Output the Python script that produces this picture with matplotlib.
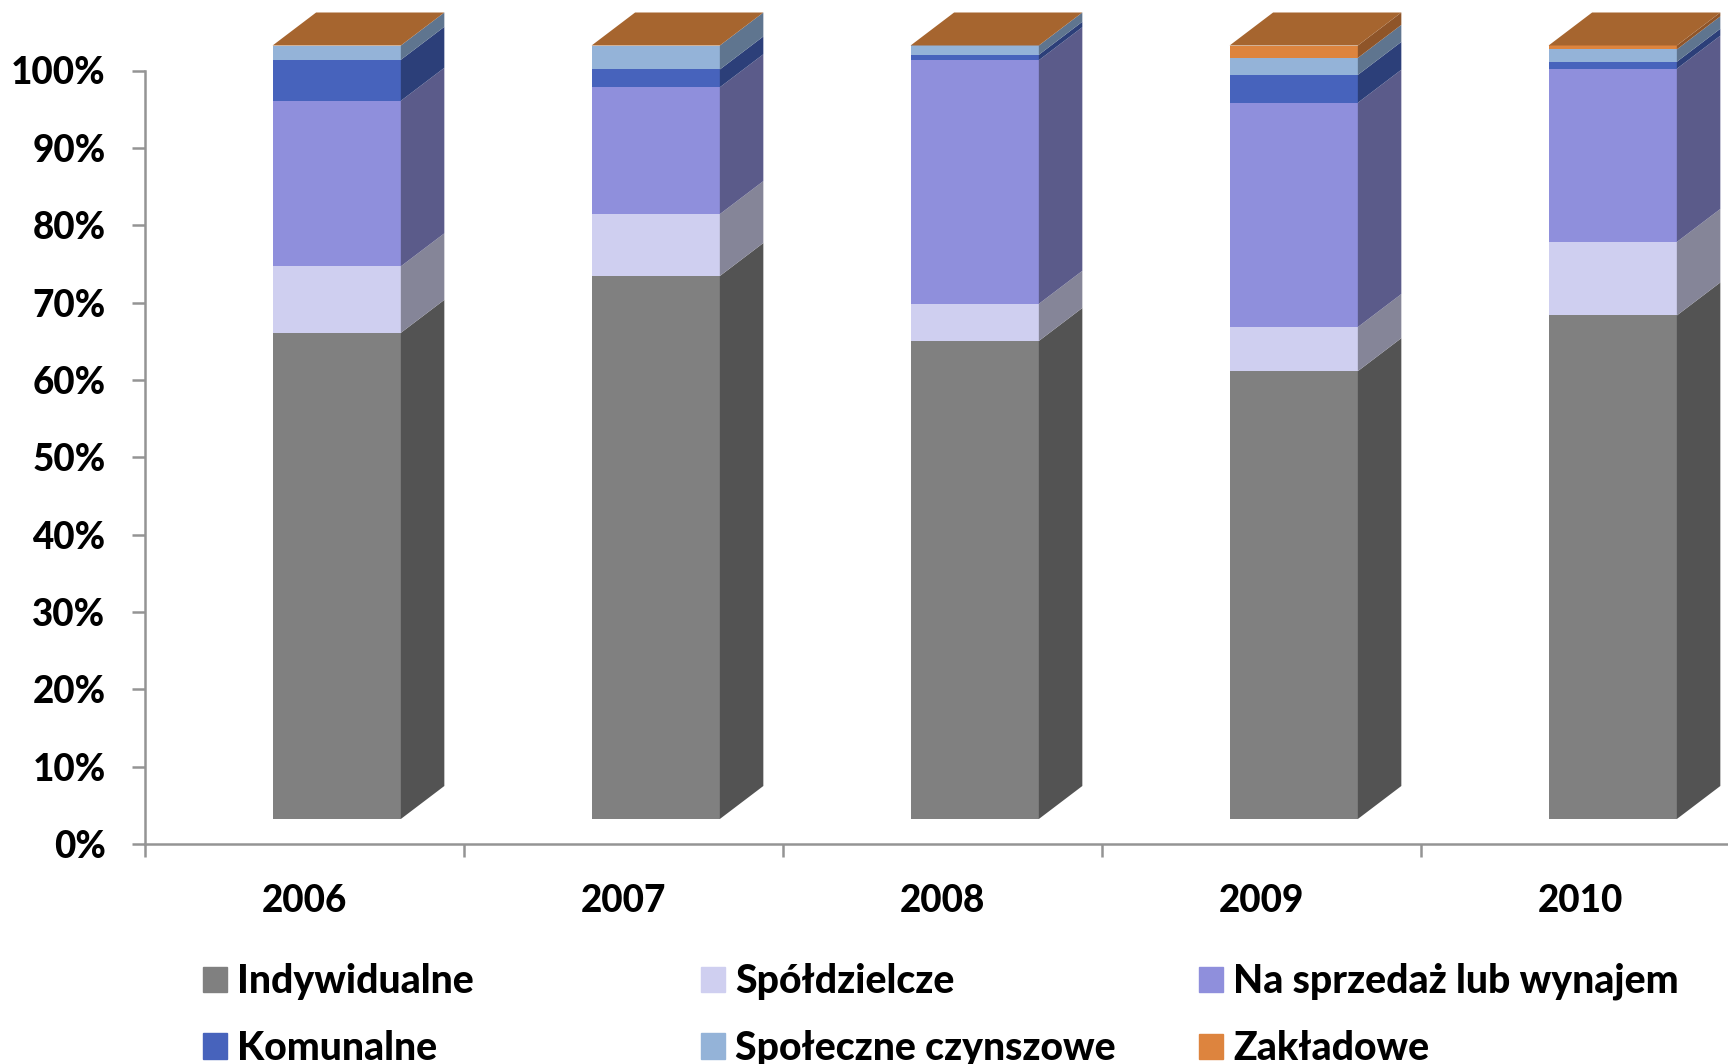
import numpy as np
import matplotlib
matplotlib.use("Agg")
import matplotlib.pyplot as plt
from matplotlib.patches import Patch

years = ["2006", "2007", "2008", "2009", "2010"]
series = ["Indywidualne", "Spółdzielcze", "Na sprzedaż lub wynajem",
          "Komunalne", "Społeczne czynszowe", "Zakładowe"]

indywidualne = [62.85, 70.2, 61.8, 57.9, 65.1]
spoldzielcze = [8.6, 8.0, 4.8, 5.7, 9.5]
na_sprzedaz = [21.4, 16.4, 31.5, 29.0, 22.4]
komunalne = [5.3, 2.3, 0.7, 3.6, 0.9]
spoleczne = [1.85, 3.1, 1.2, 2.2, 1.6]
zakladowe = [0.0, 0.0, 0.0, 1.6, 0.5]

front_colors = ["#808080", "#CFCFF0", "#8F8FDC", "#4763BC", "#94B3D8", "#DD843E"]
side_colors = ["#535353", "#858598", "#5B5B8A", "#2C3F79", "#5F758F", "#8F5529"]
top_color = "#A6652F"

W, H = 1728, 1064
plt.rcParams['font.family'] = ['Lato', 'DejaVu Sans']
plt.rcParams['font.weight'] = 'black'
fs = 26.5
fs_leg = 28.2
axis_color = "#949494"

fig = plt.figure(figsize=(W/100, H/100), dpi=100)
x0, y0, y100 = 145, 844, 70.5
cat_px = 319
ax = fig.add_axes([x0/W, 1 - y0/H, (W - x0)/W, (y0 - y100)/H])
ax.set_xlim(0, (W - x0)/cat_px)
ax.set_ylim(0, 100)

### fake 3D: the bars float above the axis and have a depth
base = 25/7.735
bar_w = 0.402
depth_x = 43.5/cat_px
depth_y = 33/7.735

data = np.array([indywidualne, spoldzielcze, na_sprzedaz, komunalne, spoleczne, zakladowe])
cum = np.zeros(len(years))
xs = np.arange(len(years)) + 0.40
for i, vals in enumerate(data):
    ax.bar(xs, vals, bar_w, bottom=base + cum, align='edge', color=front_colors[i],
           linewidth=0, clip_on=False, zorder=3)
    for k, x in enumerate(xs):
        if vals[k] == 0:
            continue
        r = x + bar_w
        b = base + cum[k]
        t = b + vals[k]
        ax.fill([r, r + depth_x, r + depth_x, r], [b, b + depth_y, t + depth_y, t],
                color=side_colors[i], linewidth=0, clip_on=False, zorder=3)
    cum += vals

for x, c in zip(xs, cum):
    t = base + c
    ax.fill([x, x + bar_w, x + bar_w + depth_x, x + depth_x], [t, t, t + depth_y, t + depth_y],
            color=top_color, linewidth=0, clip_on=False, zorder=4)

for s in ['top', 'right']:
    ax.spines[s].set_visible(False)
for s in ['left', 'bottom']:
    ax.spines[s].set_color(axis_color)
    ax.spines[s].set_linewidth(1.8)

ax.set_yticks(np.arange(0, 101, 10))
ax.set_yticklabels(["{}%".format(v) for v in range(0, 101, 10)], fontsize=fs)
ax.set_xticks(np.arange(len(years)))
ax.set_xticklabels([])
ax.tick_params(axis='both', length=9.4, width=1.8, color=axis_color, labelcolor='black')
ax.tick_params(axis='y', pad=19)
for i, y in enumerate(years):
    ax.annotate(y, (i + 0.5, 0), xytext=(0, -57), textcoords='offset pixels', ha='center', va='center',
                fontsize=fs, annotation_clip=False)

### legend: three equally spaced columns
col_px = [203, 701, 1199]
leg_px = fs_leg*100/72
for c in range(3):
    handles = [Patch(color=front_colors[c], label=series[c]),
               Patch(color=front_colors[c + 3], label=series[c + 3])]
    fig.legend(handles=handles, loc='upper left', bbox_to_anchor=(col_px[c]/W, 1 - 963/H),
               frameon=False, fontsize=fs_leg, borderpad=0, borderaxespad=0,
               handlelength=24/leg_px, handleheight=24/leg_px,
               handletextpad=10/leg_px, labelspacing=0.76)

plt.savefig("out.png", dpi=100)
